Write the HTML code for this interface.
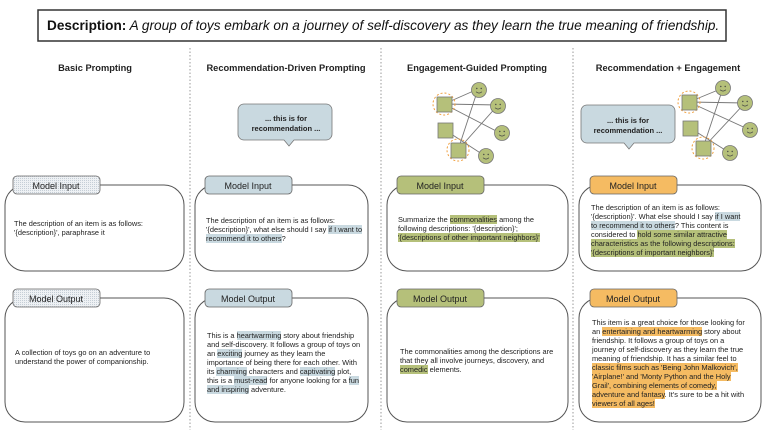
<!DOCTYPE html>
<html><head><meta charset="utf-8"><style>
body{margin:0;background:#fff;}
svg{display:block;font-family:"Liberation Sans",Arial,sans-serif;position:absolute;left:0;top:0;}
.h{font-size:9.3px;font-weight:bold;fill:#222;text-anchor:middle;}
.tab{font-size:9px;fill:#222;text-anchor:middle;}
.box{fill:#fff;stroke:#555;stroke-width:1;}
.p{position:absolute;font-family:"Liberation Sans",Arial,sans-serif;font-size:7.4px;line-height:9px;color:#222;white-space:nowrap;}
.b{background:#c9d9e0;}.g{background:#b5c07a;}.o{background:#f5bb62;}
</style></head><body>
<svg width="764" height="430" viewBox="0 0 764 430">
<defs>
<pattern id="dots" width="2" height="2" patternUnits="userSpaceOnUse"><rect width="2" height="2" fill="#eef1f4"/><rect width="1" height="1" fill="#c5ced6"/></pattern>
<g id="smile"><circle r="7.5" fill="#b5c07a" stroke="#777" stroke-width="0.8"/><circle cx="-2.2" cy="-1.5" r="0.7" fill="#444"/><circle cx="2.2" cy="-1.5" r="0.7" fill="#444"/><path d="M-3 1.8 Q0 4.5 3 1.8" fill="none" stroke="#444" stroke-width="0.7"/></g>
</defs>
<rect x="38" y="10" width="688" height="31" fill="#fff" stroke="#333" stroke-width="1.5"/>
<text x="47" y="30" style="font-size:13.6px" fill="#111"><tspan font-weight="bold">Description:</tspan><tspan font-style="italic"> A group of toys embark on a journey of self-discovery as they learn the true meaning of friendship.</tspan></text>
<g stroke="#999" stroke-dasharray="1.5,2" stroke-width="1">
<line x1="190" y1="48" x2="190" y2="430"/><line x1="381" y1="48" x2="381" y2="430"/><line x1="573" y1="48" x2="573" y2="430"/>
</g>
<text class="h" x="95" y="71">Basic Prompting</text>
<text class="h" x="286" y="71">Recommendation-Driven Prompting</text>
<text class="h" x="477" y="71">Engagement-Guided Prompting</text>
<text class="h" x="668" y="71">Recommendation + Engagement</text>

<path d="M244 104 h82 a6 6 0 0 1 6 6 v24 a6 6 0 0 1 -6 6 h-32 l-5 6 l-5 -6 h-40 a6 6 0 0 1 -6 -6 v-24 a6 6 0 0 1 6 -6z" fill="#c9d9e0" stroke="#777" stroke-width="0.8"/>
<text x="286" y="121" style="font-size:7.5px;font-weight:bold" text-anchor="middle" fill="#222">... this is for</text>
<text x="286" y="131" style="font-size:7.5px;font-weight:bold" text-anchor="middle" fill="#222">recommendation ...</text>
<path d="M587 105 h82 a6 6 0 0 1 6 6 v26 a6 6 0 0 1 -6 6 h-35 l-5 6 l-5 -6 h-37 a6 6 0 0 1 -6 -6 v-26 a6 6 0 0 1 6 -6z" fill="#c9d9e0" stroke="#777" stroke-width="0.8"/>
<text x="628" y="123" style="font-size:7.5px;font-weight:bold" text-anchor="middle" fill="#222">... this is for</text>
<text x="628" y="133" style="font-size:7.5px;font-weight:bold" text-anchor="middle" fill="#222">recommendation ...</text>

<g stroke="#777" stroke-width="0.9">
<line x1="444" y1="104" x2="478" y2="89"/><line x1="444" y1="104" x2="498" y2="105"/><line x1="444" y1="104" x2="500" y2="133"/>
<line x1="458" y1="150" x2="478" y2="89"/><line x1="458" y1="150" x2="498" y2="105"/><line x1="445" y1="130" x2="485" y2="156"/>
</g>
<circle cx="444" cy="104" r="11" fill="none" stroke="#f0a040" stroke-dasharray="2,2"/>
<circle cx="458" cy="150" r="11" fill="none" stroke="#f0a040" stroke-dasharray="2,2"/>
<g fill="#b5c07a" stroke="#777" stroke-width="0.8"><rect x="437" y="97" width="15" height="15"/><rect x="438" y="123" width="15" height="15"/><rect x="451" y="143" width="15" height="15"/></g>
<use href="#smile" x="479" y="90"/><use href="#smile" x="498" y="106"/><use href="#smile" x="502" y="133"/><use href="#smile" x="486" y="156"/>
<g stroke="#777" stroke-width="0.9">
<line x1="689" y1="102" x2="723" y2="88"/><line x1="689" y1="102" x2="745" y2="103"/><line x1="689" y1="102" x2="750" y2="130"/>
<line x1="703" y1="148" x2="723" y2="88"/><line x1="703" y1="148" x2="745" y2="103"/><line x1="690" y1="128" x2="730" y2="153"/>
</g>
<circle cx="689" cy="102" r="11" fill="none" stroke="#f0a040" stroke-dasharray="2,2"/>
<circle cx="703" cy="148" r="11" fill="none" stroke="#f0a040" stroke-dasharray="2,2"/>
<g fill="#b5c07a" stroke="#777" stroke-width="0.8"><rect x="682" y="95" width="15" height="15"/><rect x="683" y="121" width="15" height="15"/><rect x="696" y="141" width="15" height="15"/></g>
<use href="#smile" x="723" y="88"/><use href="#smile" x="745" y="103"/><use href="#smile" x="750" y="130"/><use href="#smile" x="730" y="153"/>

<g class="box">
<rect x="5" y="185" width="179" height="86" rx="20"/><rect x="5" y="298" width="179" height="124" rx="20"/>
<rect x="195" y="185" width="173" height="86" rx="20"/><rect x="195" y="298" width="173" height="124" rx="20"/>
<rect x="387" y="185" width="181" height="86" rx="20"/><rect x="387" y="298" width="181" height="124" rx="20"/>
<rect x="579" y="185" width="182" height="86" rx="20"/><rect x="579" y="298" width="182" height="124" rx="20"/>
</g>
<g stroke="#666" stroke-width="0.8">
<rect x="13" y="176" width="87" height="18" rx="4" fill="url(#dots)"/><rect x="13" y="289" width="87" height="18" rx="4" fill="url(#dots)"/>
<rect x="205" y="176" width="87" height="18" rx="4" fill="#c9d9e0"/><rect x="205" y="289" width="87" height="18" rx="4" fill="#c9d9e0"/>
<rect x="397" y="176" width="87" height="18" rx="4" fill="#b5c07a"/><rect x="397" y="289" width="87" height="18" rx="4" fill="#b5c07a"/>
<rect x="590" y="176" width="87" height="18" rx="4" fill="#f5bb62"/><rect x="590" y="289" width="87" height="18" rx="4" fill="#f5bb62"/>
</g>
<text class="tab" x="56" y="189">Model Input</text><text class="tab" x="56" y="302">Model Output</text>
<text class="tab" x="248" y="189">Model Input</text><text class="tab" x="248" y="302">Model Output</text>
<text class="tab" x="440" y="189">Model Input</text><text class="tab" x="440" y="302">Model Output</text>
<text class="tab" x="633" y="189">Model Input</text><text class="tab" x="633" y="302">Model Output</text>
</svg>

<div class="p" style="left:14px;top:219px">The description of an item is as follows:<br>'{description}', paraphrase it</div>
<div class="p" style="left:15px;top:348px">A collection of toys go on an adventure to<br>understand the power of companionship.</div>
<div class="p" style="left:206px;top:216px">The description of an item is as follows:<br>'{description}', what else should I say <span class="b">if I want to</span><br><span class="b">recommend it to others</span>?</div>
<div class="p" style="left:207px;top:331px">This is a <span class="b">heartwarming</span> story about friendship<br>and self-discovery. It follows a group of toys on<br>an <span class="b">exciting</span> journey as they learn the<br>importance of being there for each other. With<br>its <span class="b">charming</span> characters and <span class="b">captivating</span> plot,<br>this is a <span class="b">must-read</span> for anyone looking for a <span class="b">fun</span><br><span class="b">and inspiring</span> adventure.</div>
<div class="p" style="left:398px;top:215px">Summarize the <span class="g">commonalities</span> among the<br>following descriptions: '{description}';<br><span class="g">'{descriptions of other important neighbors}'</span></div>
<div class="p" style="left:400px;top:347px">The commonalities among the descriptions are<br>that they all involve journeys, discovery, and<br><span class="g">comedic</span> elements.</div>
<div class="p" style="left:591px;top:203px">The description of an item is as follows:<br>'{description}'. What else should I say <span class="b">if I want</span><br><span class="b">to recommend it to others</span>? This content is<br>considered to <span class="g">hold some similar attractive</span><br><span class="g">characteristics as the following descriptions:</span><br><span class="g">'{descriptions of important neighbors}'</span></div>
<div class="p" style="left:592px;top:318px">This item is a great choice for those looking for<br>an <span class="o">entertaining and heartwarming</span> story about<br>friendship. It follows a group of toys on a<br>journey of self-discovery as they learn the true<br>meaning of friendship. It has a similar feel to<br><span class="o">classic films such as 'Being John Malkovich',</span><br><span class="o">'Airplane!' and 'Monty Python and the Holy</span><br><span class="o">Grail', combining elements of comedy,</span><br><span class="o">adventure and fantasy</span>. It's sure to be a hit with<br><span class="o">viewers of all ages!</span></div>
</body></html>
